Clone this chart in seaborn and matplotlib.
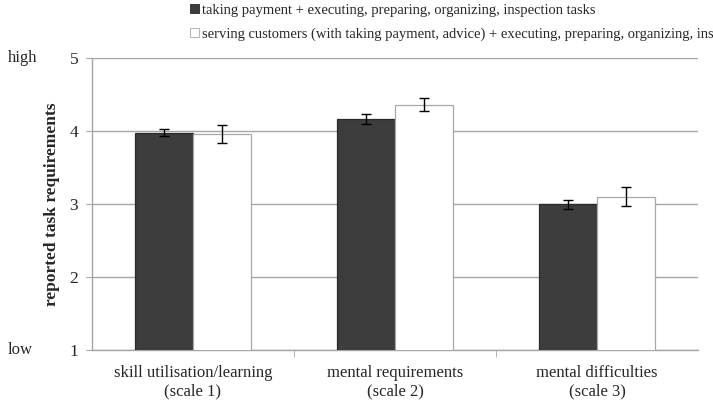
import pandas as pd
import seaborn as sns
import matplotlib.pyplot as plt
from matplotlib.patches import Patch
from matplotlib.ticker import FixedLocator

# values
categories = ["skill utilisation/learning\n(scale 1)",
              "mental requirements\n(scale 2)",
              "mental difficulties\n(scale 3)"]
groups = ["taking payment + executing, preparing, organizing, inspection tasks",
          "serving customers (with taking payment, advice) + executing, preparing, organizing, inspection tasks"]
means_payment = [3.98, 4.17, 3.00]
means_serving = [3.96, 4.36, 3.10]
err_payment = [0.05, 0.07, 0.06]
err_serving = [0.12, 0.09, 0.13]

df = pd.DataFrame({
    "scale": categories * 2,
    "group": [groups[0]] * 3 + [groups[1]] * 3,
    "value": means_payment + means_serving,
    "err": err_payment + err_serving,
})

sns.set_style("white")
plt.rcParams["font.family"] = ["Liberation Serif", "DejaVu Serif"]

fig = plt.figure(figsize=(7.13, 4.12), dpi=100)
ax = fig.add_axes([0.129, 0.150, 0.850, 0.709])

sns.barplot(data=df, x="scale", y="value", hue="group",
            palette=["#3d3d3d", "#ffffff"], width=0.574, gap=0,
            errorbar=None, legend=False, ax=ax, zorder=3)

# edges + error bars, positioned from the bar patches
edge_cols = ["#2a2a2a", "#a8a8a8"]
bar_conts = list(ax.containers)
for i, cont in enumerate(bar_conts):
    errs = df[df["group"] == groups[i]]["err"].tolist()
    for bar, e in zip(cont, errs):
        bar.set_edgecolor(edge_cols[i])
        bar.set_linewidth(0.9)
        ax.errorbar(bar.get_x() + bar.get_width() / 2, bar.get_height(), yerr=e,
                    color="black", capsize=3.5, elinewidth=1.0, capthick=1.0,
                    zorder=4)

ax.set_ylim(1, 5)
ax.set_xlim(-0.5, 2.5)
ax.set_yticks([1, 2, 3, 4, 5])
ax.yaxis.grid(True, color="#a6a6a6", linewidth=1.0)
ax.set_axisbelow(True)
for s in ["top", "right"]:
    ax.spines[s].set_visible(False)
for s in ["left", "bottom"]:
    ax.spines[s].set_color("#a6a6a6")
    ax.spines[s].set_linewidth(1.0)

ax.tick_params(axis="y", left=True, length=4, color="#a6a6a6", labelsize=12.5, pad=6)
ax.tick_params(axis="x", bottom=False, labelsize=12, pad=7)
ax.xaxis.set_minor_locator(FixedLocator([0.5, 1.5]))
ax.tick_params(axis="x", which="minor", bottom=True, length=5, color="#a6a6a6")

ax.set_xlabel("")
ax.set_ylabel("reported task requirements", fontsize=12.5, fontweight="bold", labelpad=7)

# high / low anchors on the left
tr = ax.get_yaxis_transform()
ax.text(-0.139, 5, "high", transform=tr, ha="left", va="center", fontsize=12)
ax.text(-0.139, 1, "low", transform=tr, ha="left", va="center", fontsize=12)

handles = [Patch(facecolor="#3d3d3d", edgecolor="#2a2a2a", linewidth=0.6),
           Patch(facecolor="white", edgecolor="#a8a8a8", linewidth=0.6)]
fig.legend(handles, groups, loc="upper left", bbox_to_anchor=(0.258, 1.005),
           frameon=False, fontsize=10.5, handlelength=0.6, handleheight=0.6,
           handletextpad=0.25, labelspacing=0.72, borderaxespad=0)

fig.savefig("out.png", dpi=100)
